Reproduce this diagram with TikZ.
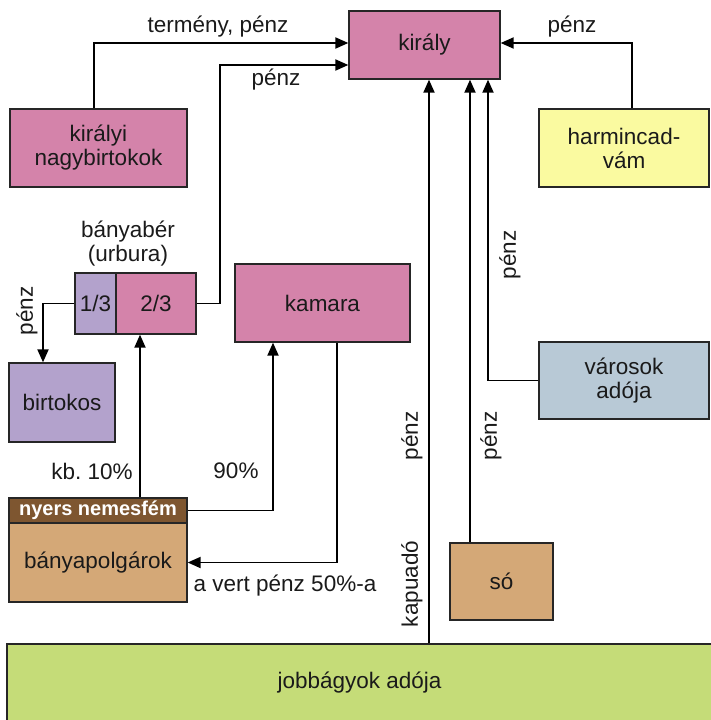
\documentclass[tikz,border=0pt]{standalone}
\usepackage{fontspec}
\setmainfont{Liberation Sans}
\usetikzlibrary{arrows.meta}
\definecolor{cpink}{HTML}{D483AA}
\definecolor{cpurple}{HTML}{B3A2CC}
\definecolor{cyellow}{HTML}{FAFAA0}
\definecolor{cblue}{HTML}{B8C9D6}
\definecolor{cgreen}{HTML}{C5DC78}
\definecolor{ctan}{HTML}{D4A877}
\definecolor{cbrown}{HTML}{7E5630}
\definecolor{ctext}{HTML}{1A1A1A}
\frenchspacing
\begin{document}
\begin{tikzpicture}[x=1pt,y=-1pt,
  box/.style={draw=black!85, line width=1.3pt, inner sep=0pt, align=center,
    font=\fontsize{22.5}{24}\selectfont, text=ctext},
  lbl/.style={inner sep=0pt, font=\fontsize{22.5}{24}\selectfont, text=ctext, align=center},
  arr/.style={line width=1.9pt, -{Triangle[length=13pt,width=11pt]}},
  ln/.style={line width=1.9pt}]
\useasboundingbox (0,0) rectangle (710,720);
% boxes
\node[box, fill=cpink, minimum width=151pt, minimum height=68pt] (kiraly) at (424.5,45) {király};
\node[box, fill=cpink, minimum width=177pt, minimum height=78pt] (kn) at (98.5,148) {királyi\\nagybirtokok};
\node[box, fill=cyellow, minimum width=170pt, minimum height=78pt] (harm) at (624,148) {harmincad-\\vám};
\node[box, fill=cblue, minimum width=170pt, minimum height=77pt] (var) at (624,380.5) {városok\\adója};
\node[box, fill=ctan, minimum width=103pt, minimum height=77pt] (so) at (501.5,581.5) {só};
\node[box, fill=cgreen, minimum width=705pt, minimum height=78pt] (job) at (359.5,683) {jobbágyok adója};
\node[box, fill=cpurple, minimum width=41pt, minimum height=61pt] (b13) at (95.5,303.5) {1/3};
\node[box, fill=cpink, minimum width=80pt, minimum height=61pt] (b23) at (156,303.5) {2/3};
\node[box, fill=cpurple, minimum width=106pt, minimum height=79pt] (birt) at (62,402.5) {birtokos};
\node[box, fill=cpink, minimum width=175pt, minimum height=78pt] (kamara) at (322.5,303) {kamara};
\node[box, fill=ctan, minimum width=178pt, minimum height=79pt] (banya) at (98,562.5) {bányapolgárok};
\node[box, fill=cbrown, minimum width=178pt, minimum height=25pt, text=white,
  font=\fontsize{20}{22}\selectfont\bfseries] (nyers) at (98,510.5) {nyers nemesfém};
% coordinates
\coordinate (t1) at (94,43);
\coordinate (p1) at (220,65);
\coordinate (h1) at (632,43);
\coordinate (ka) at (429,0);
\coordinate (sx) at (470,0);
\coordinate (vx) at (488,0);
\coordinate (bx) at (43,0);
\coordinate (kx) at (140,0);
\coordinate (mx) at (273,0);
\coordinate (dx) at (337,0);
% connectors
\draw[arr] (kn.north -| t1) |- (t1 -| kiraly.west);
\draw[arr] (b23.east) -| (p1) -- (p1 -| kiraly.west);
\draw[arr] (harm.north -| h1) |- (h1 -| kiraly.east);
\draw[arr] (job.north -| ka) -- (kiraly.south -| ka);
\draw[arr] (so.north -| sx) -- (kiraly.south -| sx);
\draw[arr] (var.west) -| (kiraly.south -| vx);
\draw[arr] (b13.west) -| (birt.north -| bx);
\draw[arr] (nyers.north -| kx) -- (b23.south -| kx);
\draw[arr] (nyers.east) -| (kamara.south -| mx);
\draw[arr] (kamara.south -| dx) |- (banya.east);
% labels
\node[lbl] (l1) at (218,27) {termény, pénz};
\node[lbl] (l2) at (276,80) {pénz};
\node[lbl] (l3) at (572,27) {pénz};
\node[lbl] (l4) at (128,244) {bányabér\\(urbura)};
\node[lbl, rotate=90] (l5) at (27,311) {pénz};
\node[lbl] (l6) at (92,471) {kb. 10\%};
\node[lbl] (l7) at (236,471) {90\%};
\node[lbl] (l8) at (285,586) {a vert pénz 50\%-a};
\node[lbl, rotate=90] (l9) at (412,436) {pénz};
\node[lbl, rotate=90] (l10) at (412,584) {kapuadó};
\node[lbl, rotate=90] (l11) at (491,436) {pénz};
\node[lbl, rotate=90] (l12) at (510,255) {pénz};
\end{tikzpicture}
\end{document}
